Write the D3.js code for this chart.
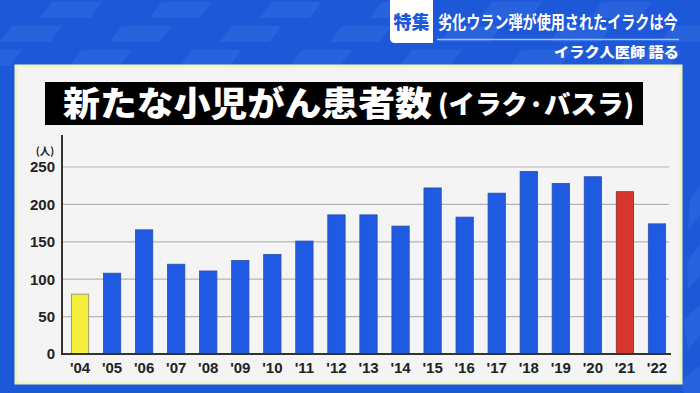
<!DOCTYPE html>
<html><head><meta charset="utf-8">
<script src="https://cdn.jsdelivr.net/npm/d3@7/dist/d3.min.js"></script>
<style>html,body{margin:0;padding:0;background:#1d58d8;}svg{display:block;}</style>
</head><body>
<svg id="c" width="700" height="393"></svg>
<script>
const categories = ["'04","'05","'06","'07","'08","'09","'10","'11","'12","'13","'14","'15","'16","'17","'18","'19","'20","'21","'22"];
const values = [80,108,166,120,111,125,133,151,186,186,171,222,183,215,244,228,237,217,174];
const highlight = {"'04":"#f4ee3c","'21":"#d6362c"};
const yTicks = [0,50,100,150,200,250];
const title = "新たな小児がん患者数";
const titleSub = "(イラク·バスラ)";
const unitLabel = "(人)";
const tagLabel = "特集";
const headline = "劣化ウラン弾が使用されたイラクは今";
const subHeadline = "イラク人医師 語る";

const svg = d3.select("#c");
const W = 700, H = 393;
const JP = "'Noto Sans CJK JP','Noto Sans CJK SC',sans-serif";
const NUM = "'Liberation Sans',Arial,sans-serif";

// background
svg.append("rect").attr("width",W).attr("height",H).attr("fill","#1d58d8");
const stripes = svg.append("g").attr("fill","#3a72e6").attr("opacity",0.4);
for (let r=0;r<3;r++){
  for (let i=-1;i<10;i++){
    const y0 = r*24+2, y1 = y0+16;
    const x0 = i*110 + r*-40 + 40;
    stripes.append("path").attr("d",`M${x0+12},${y0} L${x0+62},${y0} L${x0+50},${y1} L${x0},${y1} Z`);
  }
}
for (let i=0;i<4;i++){
  stripes.append("path").attr("d",`M${690-i*3},${200+i*60} L${700},${185+i*60} L${700},${215+i*60} L${688},${230+i*60} Z`);
}

// header tab
svg.append("path").attr("d","M390,0 L433,0 L433,43 L395,43 Q390,43 390,38 Z").attr("fill","#ffffff");
svg.append("text").attr("x",411.5).attr("y",29).attr("text-anchor","middle")
  .attr("font-family",JP).attr("font-weight",900).attr("font-size",18).attr("fill","#1d58d8").text(tagLabel);
svg.append("text").attr("transform","translate(438,29) scale(1,1.25)")
  .attr("font-family",JP).attr("font-weight",700).attr("font-size",14.1).attr("fill","#ffffff").text(headline);
svg.append("line").attr("x1",437).attr("x2",679).attr("y1",39.5).attr("y2",39.5)
  .attr("stroke","#9cc0f4").attr("stroke-width",1.6);
svg.append("text").attr("x",679).attr("y",57).attr("text-anchor","end").attr("textLength",125).attr("lengthAdjust","spacingAndGlyphs")
  .attr("font-family",JP).attr("font-weight",900).attr("font-size",13.5).attr("fill","#ffffff").text(subHeadline);

// panel
svg.append("rect").attr("x",16).attr("y",66).attr("width",665).attr("height",317)
  .attr("fill","#f4f4f4").attr("stroke","#eef5c4").attr("stroke-width",3);

// title box
svg.append("rect").attr("x",45).attr("y",82).attr("width",598).attr("height",43).attr("fill","#000");
svg.append("text").attr("x",63).attr("y",116).attr("textLength",369).attr("lengthAdjust","spacingAndGlyphs")
  .attr("font-family",JP).attr("font-weight",900).attr("font-size",34).attr("fill","#fff").text(title);
svg.append("text").attr("x",438).attr("y",114).attr("textLength",196).attr("lengthAdjust","spacingAndGlyphs")
  .attr("font-family",JP).attr("font-weight",900).attr("font-size",26).attr("fill","#fff").text(titleSub);

// chart
const x0 = 62, x1 = 671, yBase = 354, yTop = 167;
const x = d3.scaleBand().domain(categories).range([x0+2, x1+2]).paddingInner(0.46).paddingOuter(0.23);
const y = d3.scaleLinear().domain([0,250]).range([yBase, yTop]);

// gridlines
const grid = svg.append("g");
grid.selectAll("line").data(yTicks.filter(d=>d>0)).join("line")
  .attr("x1",x0).attr("x2",669).attr("y1",d=>y(d)).attr("y2",d=>y(d))
  .attr("stroke","#b4b4b4").attr("stroke-width",1.2);

// bars
svg.append("g").selectAll("rect").data(categories).join("rect")
  .attr("x",d=>x(d)).attr("width",x.bandwidth())
  .attr("y",(d,i)=>y(values[i])).attr("height",(d,i)=>yBase-y(values[i]))
  .attr("fill",d=>highlight[d]||"#1f5ae2")
  .attr("stroke",d=>d==="'04"?"#8a8a6a":(d==="'21"?"#8e2a24":"#2a4fa8")).attr("stroke-width",0.8);

// y axis
const yAxis = d3.axisLeft(y).tickValues(yTicks).tickSize(0).tickPadding(7);
const ya = svg.append("g").attr("transform",`translate(${x0},0)`).call(yAxis);
ya.select(".domain").remove();
ya.selectAll("text").attr("font-family",NUM).attr("font-weight",700).attr("font-size",15).attr("fill","#222");
svg.append("line").attr("x1",x0).attr("x2",x0).attr("y1",135).attr("y2",yBase+1).attr("stroke","#333").attr("stroke-width",2);

// x axis
const xAxis = d3.axisBottom(x).tickSize(0).tickPadding(8);
const xa = svg.append("g").attr("transform",`translate(0,${yBase})`).call(xAxis);
xa.select(".domain").remove();
xa.selectAll("text").attr("font-family",NUM).attr("font-weight",700).attr("font-size",15).attr("fill","#222");
svg.append("line").attr("x1",x0-1).attr("x2",x1).attr("y1",yBase).attr("y2",yBase).attr("stroke","#333").attr("stroke-width",2);

// unit
svg.append("text").attr("x",45).attr("y",155).attr("text-anchor","middle")
  .attr("font-family",JP).attr("font-weight",700).attr("font-size",10.5).attr("fill","#222").text(unitLabel);
</script>
</body></html>
